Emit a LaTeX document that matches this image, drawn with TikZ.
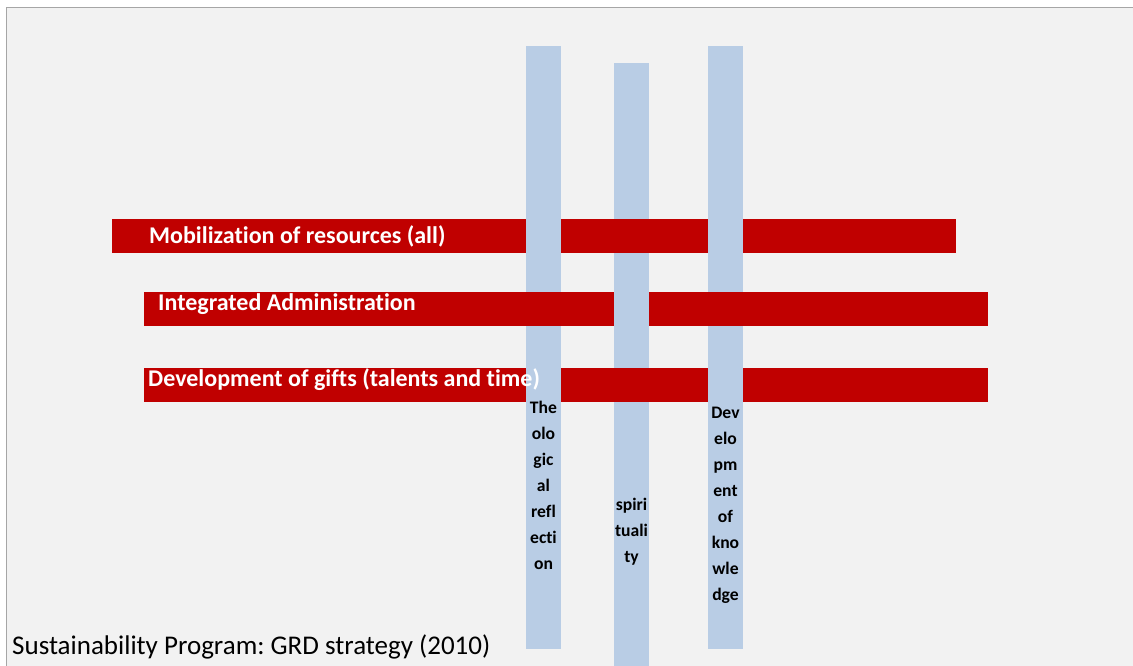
\documentclass[tikz,border=0pt]{standalone}
\usepackage{fontspec}
\setmainfont[Ligatures={NoCommon,NoRequired,NoContextual}]{Carlito}
\frenchspacing
\definecolor{bgc}{HTML}{F2F2F2}
\definecolor{framec}{HTML}{A6A6A6}
\definecolor{barred}{HTML}{C00000}
\definecolor{colblue}{HTML}{B9CDE5}
\begin{document}
\begin{tikzpicture}[x=1pt,y=-1pt,
  redbar/.style={fill=barred},
  bluecol/.style={fill=colblue},
  bartext/.style={anchor=base west,inner sep=0pt,text=white,font=\fontsize{24}{28}\selectfont\bfseries},
  coltext/.style={anchor=base,inner sep=0pt,align=center,text=black,font=\fontsize{17.6}{26}\selectfont\bfseries},
  captext/.style={anchor=base west,inner sep=0pt,text=black,font=\fontsize{27}{30}\selectfont}]
\useasboundingbox (0,0) rectangle (1133,666);
\fill[white] (0,0) rectangle (1133,666);
\fill[bgc] (6.5,7.5) rectangle (1133,666);
\draw[framec,line width=1.5pt] (6.5,666) -- (6.5,7.5) -- (1133,7.5);
% horizontal bars
\fill[redbar] (112,219) rectangle (956,253);
\fill[redbar] (144,292) rectangle (988,326);
\fill[redbar] (144,368) rectangle (988,402);
% vertical columns
\fill[bluecol] (526,46) rectangle (561,649);
\fill[bluecol] (614,63) rectangle (649,666);
\fill[bluecol] (708,46) rectangle (743,649);
% weave: red over blue crossings
\fill[redbar] (614,219) rectangle (649,253);
\fill[redbar] (526,292) rectangle (561,326);
\fill[redbar] (708,292) rectangle (743,326);
\fill[redbar] (614,368) rectangle (649,402);
% texts
\node[bartext] (t1) at (149,243.3) {Mobilization of resources (all)};
\node[bartext] (t2) at (158,310.7) {Integrated Administration};
\node[bartext] (t3) at (148,386.7) {Development of gifts (talents and time)};
\node[coltext] (c1) at (543.5,569) {The\\olo\\gic\\al\\refl\\ecti\\on};
\node[coltext] (c2) at (631.5,562) {spiri\\tuali\\ty};
\node[coltext] (c3) at (725.5,600) {Dev\\elo\\pm\\ent\\of\\kno\\wle\\dge};
\node[captext] (cap) at (12,654) {Sustainability Program: GRD strategy (2010)};
\end{tikzpicture}
\end{document}
